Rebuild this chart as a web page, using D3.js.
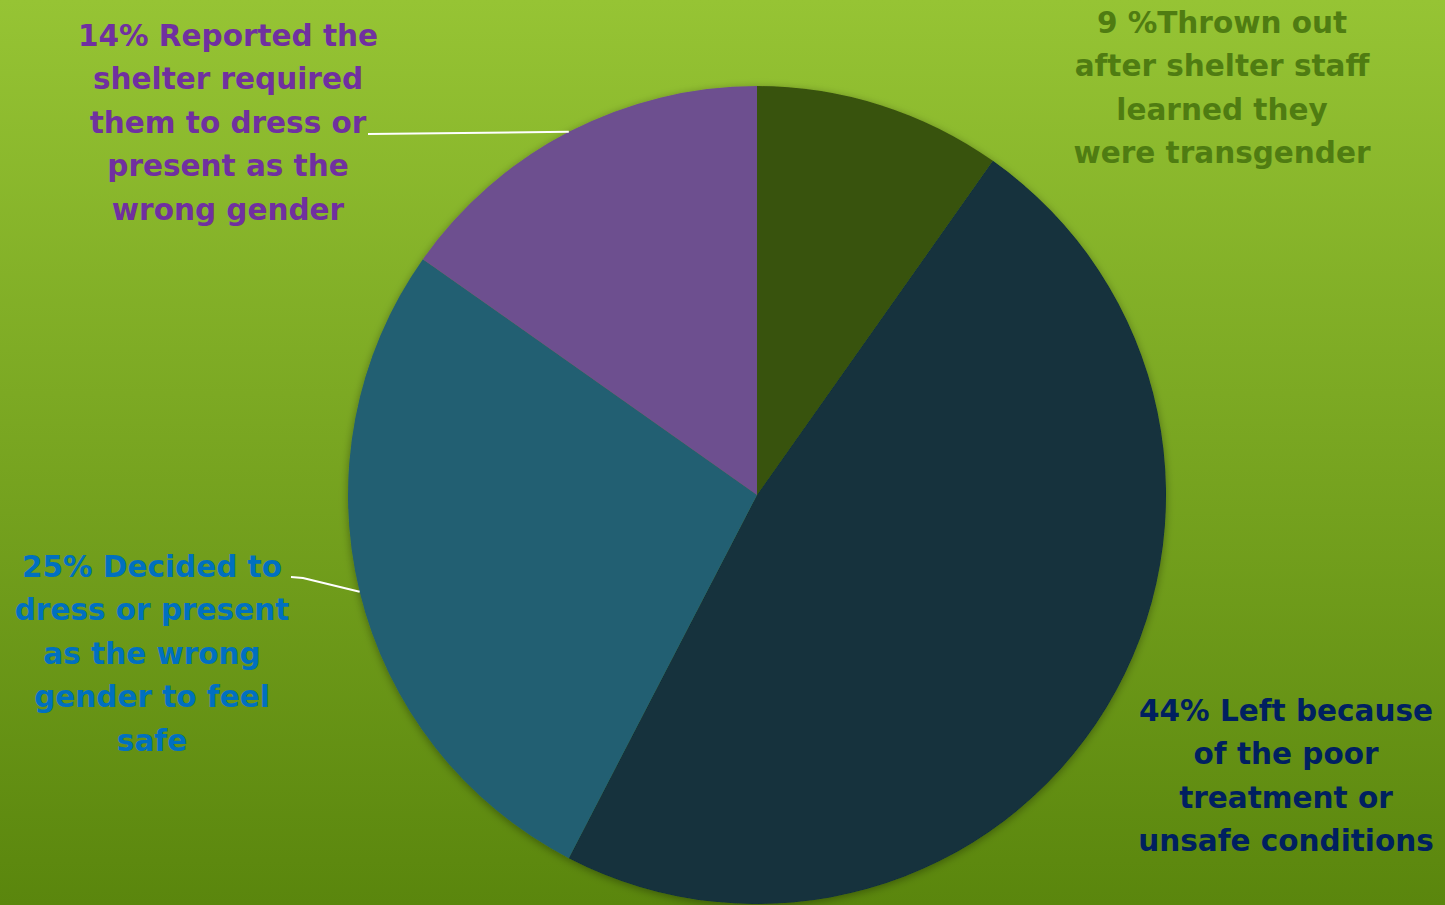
<!DOCTYPE html>
<html>
<head>
<meta charset="utf-8">
<script src="https://cdn.jsdelivr.net/npm/d3@7"></script>
<style>
  html, body { margin: 0; padding: 0; overflow: hidden; }
  svg { display: block; }
</style>
</head>
<body>
<svg id="chart"></svg>
<script>
// Data
const categories = ["Thrown out", "Left because", "Decided to dress", "Required to dress"];
const values = [9, 44, 25, 14];
const sliceColors = ["#38520e", "#12303c", "#235e72", "#6d4f8f"];
const labelColors = ["#4f7c12", "#002060", "#0070c0", "#7030a0"];
const labelLines = [
    ["9 %Thrown out", "after shelter staff", "learned they", "were transgender"],
    ["44% Left because", "of the poor", "treatment or", "unsafe conditions"],
    ["25% Decided to", "dress or present", "as the wrong", "gender to feel", "safe"],
    ["14% Reported the", "shelter required", "them to dress or", "present as the", "wrong gender"]
];

// Layout
const width = 1445, height = 905;
const cx = 757, cy = 495, radius = 409;
const lineHeight = 43.6;
const labelPos = [
    { x: 1222, y: 22 },
    { x: 1286, y: 710 },
    { x: 152, y: 566 },
    { x: 228, y: 35 }
];
// leader start points (text side); end is the slice mid on the rim
const leaders = [null, null, [[291, 577], [303, 578]], [[368, 134]]];

const svg = d3.select("#chart")
    .attr("width", width)
    .attr("height", height);

const defs = svg.append("defs");
const grad = defs.append("linearGradient")
    .attr("id", "bg")
    .attr("x1", 0).attr("y1", 0).attr("x2", 0).attr("y2", 1);
grad.append("stop").attr("offset", "0%").attr("stop-color", "#96c434");
grad.append("stop").attr("offset", "100%").attr("stop-color", "#5a860d");

const shadow = defs.append("filter")
    .attr("id", "shadow")
    .attr("x", "-10%").attr("y", "-10%").attr("width", "120%").attr("height", "120%");
shadow.append("feDropShadow")
    .attr("dx", 0).attr("dy", 2)
    .attr("stdDeviation", 4)
    .attr("flood-color", "#000")
    .attr("flood-opacity", 0.35);

// Background
svg.append("rect")
    .attr("width", width)
    .attr("height", height)
    .attr("fill", "url(#bg)");

// Pie
const pie = d3.pie().sort(null).value(d => d);
const arcs = pie(values);
const arc = d3.arc().innerRadius(0).outerRadius(radius);
const rimArc = d3.arc().innerRadius(radius).outerRadius(radius);

const g = svg.append("g")
    .attr("transform", "translate(" + cx + "," + cy + ")");

g.append("g")
    .attr("filter", "url(#shadow)")
    .selectAll("path")
    .data(arcs)
    .enter().append("path")
    .attr("d", arc)
    .attr("fill", (d, i) => sliceColors[i]);

// Leader lines
arcs.forEach(function(d, i) {
    if (!leaders[i]) return;
    const end = rimArc.centroid(d);
    const pts = leaders[i].concat([[end[0] + cx, end[1] + cy]]);
    svg.append("path")
        .attr("d", d3.line()(pts))
        .attr("fill", "none")
        .attr("stroke", "#ffffff")
        .attr("stroke-width", 2);
});

// Labels
labelLines.forEach(function(lines, i) {
    const t = svg.append("text")
        .attr("text-anchor", "middle")
        .attr("fill", labelColors[i])
        .style("font-family", "'DejaVu Sans', sans-serif")
        .style("font-weight", "bold")
        .style("font-size", "29.5px");
    lines.forEach(function(line, j) {
        t.append("tspan")
            .attr("x", labelPos[i].x)
            .attr("y", labelPos[i].y + j * lineHeight)
            .attr("dy", "0.36em")
            .text(line);
    });
});
</script>
</body>
</html>
